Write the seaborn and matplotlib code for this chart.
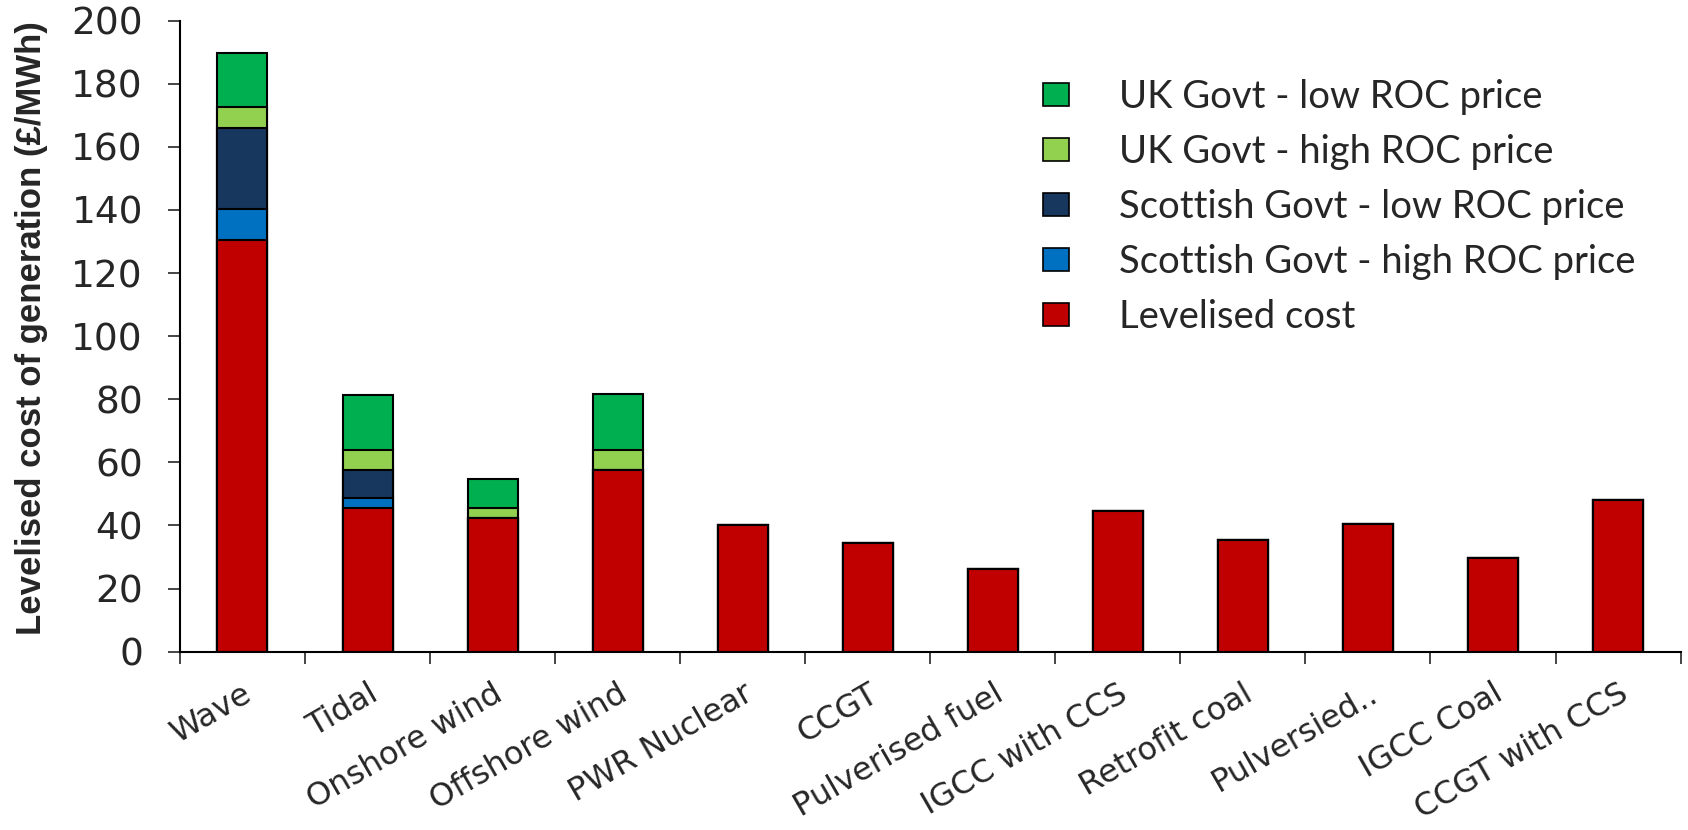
import numpy as np
import pandas as pd
import matplotlib
matplotlib.use("Agg")
import matplotlib.pyplot as plt
from matplotlib.patches import Patch
import seaborn as sns

# technologies on the x axis
categories = ["Wave", "Tidal", "Onshore wind", "Offshore wind", "PWR Nuclear", "CCGT",
              "Pulverised fuel", "IGCC with CCS", "Retrofit coal", "Pulversied..",
              "IGCC Coal", "CCGT with CCS"]

# segment heights (£/MWh), stacked bottom to top
levelised = [130.5, 45.7, 42.4, 57.7, 40.2, 34.4, 26.2, 44.6, 35.4, 40.5, 29.6, 48.0]
scot_high = [9.7, 3.1, 0, 0, 0, 0, 0, 0, 0, 0, 0, 0]
scot_low = [25.8, 8.9, 0, 0, 0, 0, 0, 0, 0, 0, 0, 0]
uk_high = [6.5, 6.3, 3.2, 6.3, 0, 0, 0, 0, 0, 0, 0, 0]
uk_low = [17.3, 17.2, 9.0, 17.7, 0, 0, 0, 0, 0, 0, 0, 0]

series_names = ["Levelised cost", "Scottish Govt - high ROC price", "Scottish Govt - low ROC price",
                "UK Govt - high ROC price", "UK Govt - low ROC price"]
series_colors = ["#C00000", "#0070C0", "#17375E", "#92D050", "#00B050"]

sns.set_style("ticks")
plt.rcParams["font.family"] = ["DejaVu Sans"]

fig = plt.figure(figsize=(16.88, 8.3), dpi=100)
ax = fig.add_axes([0.1066, 0.2148, 0.889, 0.7604])

# cumulative tops, drawn tallest first so lower segments sit on top
stack = np.cumsum(np.array([levelised, scot_high, scot_low, uk_high, uk_low]), axis=0)
for i in range(len(series_names) - 1, -1, -1):
    df = pd.DataFrame({"tech": categories, "val": stack[i]})
    sns.barplot(data=df, x="tech", y="val", color=series_colors[i], saturation=1,
                width=0.4, edgecolor="black", linewidth=1.5, ax=ax)

ax.set_xlim(-0.5, len(categories) - 0.5)
ax.set_ylim(0, 200)
ax.set_yticks(range(0, 201, 20))
ax.tick_params(axis="y", labelsize=27, length=8.6, width=1.2, direction="out", pad=18)

# ticks between the categories, labels without ticks
ax.set_xticks(np.arange(-0.5, len(categories), 1), minor=True)
ax.tick_params(axis="x", which="minor", length=8.6, width=1.2, direction="out")
ax.tick_params(axis="x", which="major", length=0, pad=19)
ax.set_xticklabels(categories, rotation=30, ha="right", rotation_mode="anchor", fontsize=23)

ax.set_xlabel("")
ax.set_ylabel("Levelised cost of generation (£/MWh)", fontsize=25, fontweight="bold",
              family=["Liberation Sans Narrow", "Liberation Sans"])
ax.yaxis.set_label_coords(-0.088, 0.513)

sns.despine(ax=ax)
for s in ["left", "bottom"]:
    ax.spines[s].set_linewidth(1.5)
    ax.spines[s].set_color("black")

handles = [Patch(facecolor=series_colors[i], edgecolor="black", linewidth=1.2,
                 label=series_names[i]) for i in range(len(series_names) - 1, -1, -1)]
ax.legend(handles=handles, loc="upper left", bbox_to_anchor=(0.552, 0.962), frameon=False,
          prop={"family": "Lato", "size": 27.5}, labelspacing=0.5, handlelength=0.7,
          handleheight=0.55, handletextpad=1.3)

fig.savefig("out.png", dpi=100)
